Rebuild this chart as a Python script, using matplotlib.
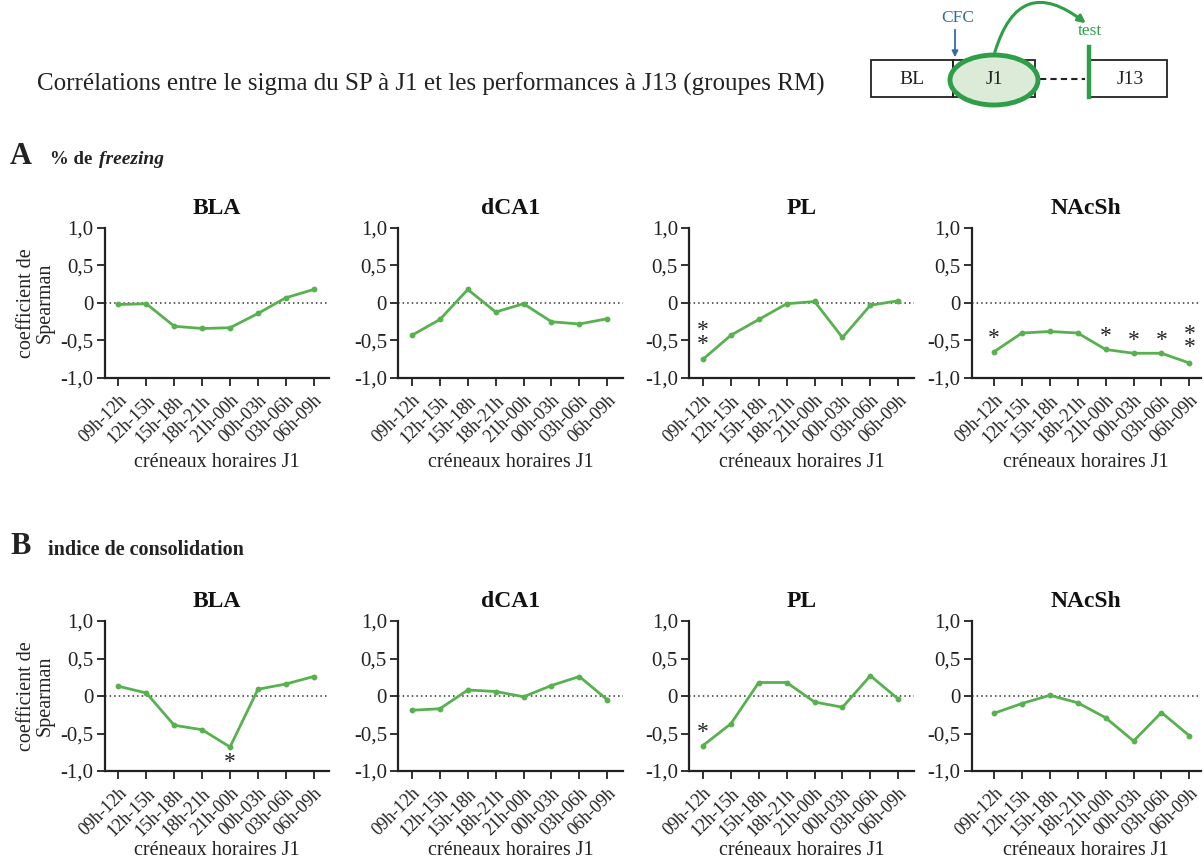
import matplotlib
matplotlib.use("Agg")
import matplotlib.pyplot as plt
from matplotlib.patches import Rectangle, Ellipse, FancyArrowPatch
import numpy as np

plt.rcParams['font.family'] = ['Liberation Serif', 'DejaVu Serif']

# ---------------- data ----------------
slots = ["09h-12h", "12h-15h", "15h-18h", "18h-21h", "21h-00h", "00h-03h", "03h-06h", "06h-09h"]
regions = ["BLA", "dCA1", "PL", "NAcSh"]

freezing_BLA = [-0.02, -0.01, -0.31, -0.34, -0.33, -0.14, 0.07, 0.18]
freezing_dCA1 = [-0.43, -0.22, 0.18, -0.12, -0.01, -0.25, -0.28, -0.21]
freezing_PL = [-0.75, -0.43, -0.22, -0.01, 0.02, -0.46, -0.03, 0.03]
freezing_NAcSh = [-0.65, -0.40, -0.38, -0.40, -0.62, -0.67, -0.67, -0.80]

consol_BLA = [0.13, 0.04, -0.39, -0.45, -0.68, 0.09, 0.16, 0.26]
consol_dCA1 = [-0.19, -0.17, 0.08, 0.06, -0.01, 0.14, 0.26, -0.05]
consol_PL = [-0.66, -0.37, 0.18, 0.18, -0.08, -0.15, 0.27, -0.04]
consol_NAcSh = [-0.23, -0.10, 0.01, -0.09, -0.29, -0.60, -0.22, -0.53]

yticks = [1.0, 0.5, 0.0, -0.5, -1.0]
ytick_labels = ["1,0", "0,5", "0", "-0,5", "-1,0"]

# significance marks: (row, region, slot index, label, placement)
stars = [
    (0, "PL", 0, "*\n*", "above"),
    (0, "NAcSh", 0, "*", "above"),
    (0, "NAcSh", 4, "*", "above"),
    (0, "NAcSh", 5, "*", "above"),
    (0, "NAcSh", 6, "*", "above"),
    (0, "NAcSh", 7, "*\n*", "above"),
    (1, "BLA", 4, "*", "below"),
    (1, "PL", 0, "*", "above"),
]

rows = [
    [freezing_BLA, freezing_dCA1, freezing_PL, freezing_NAcSh],
    [consol_BLA, consol_dCA1, consol_PL, consol_NAcSh],
]

# ---------------- layout ----------------
W, H = 1204, 861
fig = plt.figure(figsize=(W / 100, H / 100), dpi=100)

green = "#58b14f"
lefts = [0.0868, 0.3306, 0.5723, 0.8071]
widths = [0.1865, 0.1865, 0.1865, 0.19]
xlims = [(-0.5, 7.55), (-0.5, 7.55), (-0.5, 7.55), (-0.8, 7.4)]
bottoms = [1 - 378 / H, 1 - 771 / H]
height = 150 / H
xlabel_pads = [5, 1]

for r, row in enumerate(rows):
    for c, vals in enumerate(row):
        ax = fig.add_axes([lefts[c], bottoms[r], widths[c], height])
        x = np.arange(len(slots))
        ax.plot(x, vals, color=green, lw=2.0, marker='o', ms=3.2, zorder=3)
        ax.axhline(0, color='#333333', lw=1.1, ls=(0, (1, 2)), zorder=2)
        ax.set_xlim(*xlims[c])
        ax.set_ylim(-1.0, 1.0)
        ax.set_yticks(yticks)
        ax.set_yticklabels(ytick_labels, fontsize=15)
        ax.set_xticks(x)
        ax.set_xticklabels(slots, rotation=45, ha='right', rotation_mode='anchor',
                           fontsize=13)
        ax.tick_params(axis='both', direction='out', length=6, width=1.3,
                       color='#222222', labelcolor='#222222', pad=2)
        ax.tick_params(axis='x', pad=4)
        for s in ['top', 'right']:
            ax.spines[s].set_visible(False)
        for s in ['left', 'bottom']:
            ax.spines[s].set_linewidth(1.6)
            ax.spines[s].set_color('#222222')
        ax.set_title(regions[c], fontsize=17, fontweight='bold', pad=10,
                     color='#111111')
        ax.set_xlabel("créneaux horaires J1", fontsize=14.5, labelpad=xlabel_pads[r],
                      color='#222222')
        if c == 0:
            ax.set_ylabel("coefficient de\nSpearman", fontsize=14.5,
                          linespacing=0.95, labelpad=4, color='#222222')
        for (sr, reg, idx, lab, place) in stars:
            if sr == r and reg == regions[c]:
                yv = vals[idx]
                if place == "above":
                    if "\n" in lab:
                        ax.text(idx, yv + 0.06, lab, ha='center', va='bottom',
                                fontsize=17, linespacing=0.55, color='#222222')
                    else:
                        ax.text(idx, yv + 0.03, lab, ha='center', va='bottom',
                                fontsize=17, color='#222222')
                else:
                    ax.text(idx, yv - 0.06, lab, ha='center', va='top',
                            fontsize=17, color='#222222')

# ---------------- header / schematic ----------------
ov = fig.add_axes([0, 0, 1, 1], zorder=-1)
ov.set_xlim(0, W)
ov.set_ylim(H, 0)
ov.axis('off')

ov.text(37, 84, "Corrélations entre le sigma du SP à J1 et les performances à J13 (groupes RM)",
        fontsize=18, va='center', ha='left', color='#222222')

ov.text(10, 157, "A", fontsize=22, fontweight='bold', va='center', ha='left', color='#222222')
ov.text(50, 160, "% de", fontsize=13.5, fontweight='bold', va='center', ha='left', color='#222222')
ov.text(99, 160, "freezing", fontsize=14, fontweight='bold', style='italic',
        va='center', ha='left', color='#222222')
ov.text(10, 547, "B", fontsize=22, fontweight='bold', va='center', ha='left', color='#222222')
ov.text(48, 550, "indice de consolidation", fontsize=14.5, fontweight='bold',
        va='center', ha='left', color='#222222')

# boxes
ov.add_patch(Rectangle((871, 60), 82, 37, fill=False, ec='#222222', lw=1.3))
ov.add_patch(Rectangle((953, 60), 82, 37, fill=False, ec='#222222', lw=1.3))
ov.add_patch(Rectangle((1088, 60), 79, 37, fill=False, ec='#222222', lw=1.3))
ov.add_patch(Ellipse((994, 80), 88, 50, fc='#dcead8', ec='#2f9e48', lw=3.5, zorder=3))
ov.text(912, 80, "BL", fontsize=14, ha='center', va='center', color='#222222')
ov.text(994, 80, "J1", fontsize=14, ha='center', va='center', color='#222222', zorder=4)
ov.text(1130, 80, "J13", fontsize=14, ha='center', va='center', color='#222222')
ov.plot([1040, 1085], [79, 79], color='#222222', lw=1.5, ls=(0, (3, 2)))
ov.plot([1089, 1089], [47, 97], color='#2f9e48', lw=3.2)
ov.text(958, 18, "CFC", fontsize=12.5, ha='center', va='center', color='#2f6fa0')
ov.add_patch(FancyArrowPatch((955, 27), (955, 60), arrowstyle='-|>', mutation_scale=9,
                             color='#2f6fa0', lw=1.3))
ov.add_patch(FancyArrowPatch((994, 55), (1088, 25), connectionstyle="arc3,rad=-0.75",
                             arrowstyle='-|>', mutation_scale=11, color='#2f9e48', lw=2.2))
ov.text(1090, 31, "test", fontsize=12.5, ha='center', va='center', color='#2f9e48')

fig.savefig("out.png", dpi=100)
